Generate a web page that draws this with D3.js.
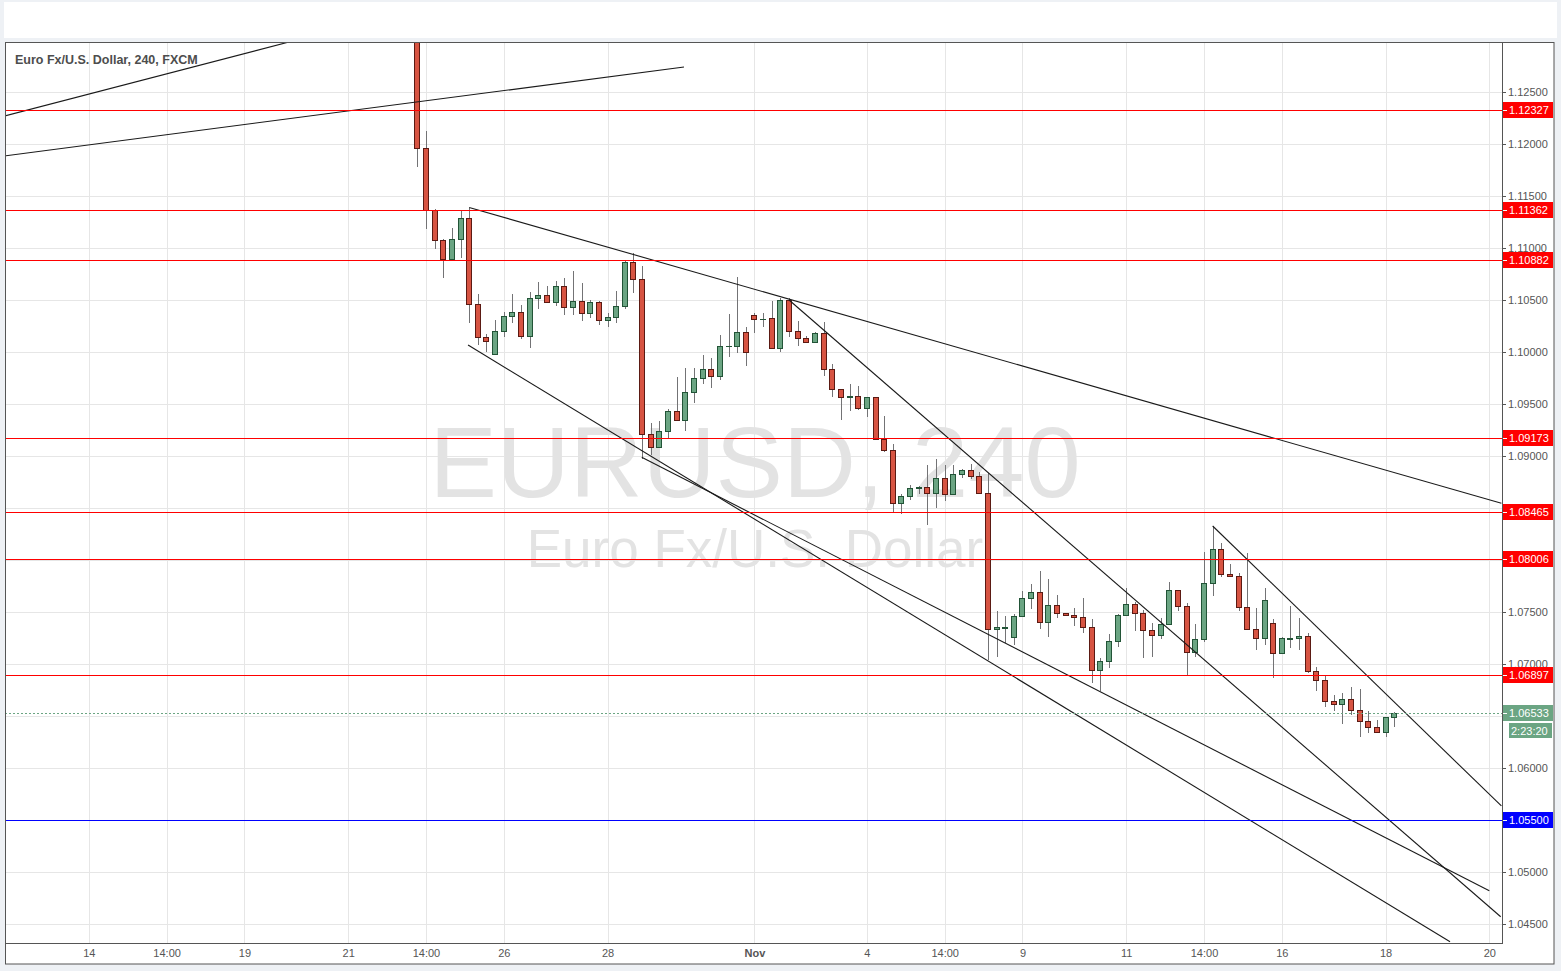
<!DOCTYPE html>
<html>
<head>
<meta charset="utf-8">
<title>EURUSD, 240</title>
<style>
body { margin: 0; background: #eef1f5; }
svg { display: block; }
text { font-family: "Liberation Sans", Arial, sans-serif; }
.grid line { stroke: #e6e6e6; shape-rendering: crispEdges; }
.wick { stroke: #737375; shape-rendering: crispEdges; }
.up { fill: #6ba583; stroke: #225437; shape-rendering: crispEdges; }
.down { fill: #d75442; stroke: #5b1a13; shape-rendering: crispEdges; }
.trend { stroke: #1a1a1a; stroke-width: 1.1; fill: none; }
.axis text { font-size: 11px; fill: #555; }
.axis line { stroke: #555; shape-rendering: crispEdges; }
</style>
</head>
<body>
<div id="chart"></div>
<script src="https://d3js.org/d3.v7.min.js"></script>
<script>

// 4h candles, index 0 = the big ECB candle
const opens = [1.13350, 1.11959, 1.11363, 1.11074, 1.10891, 1.11084, 1.11286, 1.10459, 1.10144, 1.09978,
	1.10199, 1.10343, 1.10382, 1.10151, 1.10516, 1.10551, 1.10478, 1.10632, 1.10430, 1.10487,
	1.10372, 1.10478, 1.10305, 1.10334, 1.10439, 1.10863, 1.10699, 1.09209, 1.09084, 1.09237,
	1.09430, 1.09343, 1.09613, 1.09747, 1.09834, 1.09766, 1.10055, 1.10061, 1.10189, 1.10353,
	1.10314, 1.10324, 1.10036, 1.10497, 1.10199, 1.10132, 1.10093, 1.10180, 1.09834, 1.09641,
	1.09570, 1.09574, 1.09459, 1.09564, 1.09161, 1.09058, 1.08545, 1.08620, 1.08689, 1.08702,
	1.08641, 1.08786, 1.08632, 1.08824, 1.08862, 1.08805, 1.08641, 1.07334, 1.07350, 1.07257,
	1.07459, 1.07632, 1.07689, 1.07401, 1.07564, 1.07493, 1.07474, 1.07449, 1.07353, 1.06939,
	1.07026, 1.07218, 1.07468, 1.07574, 1.07488, 1.07324, 1.07276, 1.07382, 1.07709, 1.07555,
	1.07113, 1.07238, 1.07776, 1.08103, 1.07863, 1.07849, 1.07545, 1.07334, 1.07247, 1.07391,
	1.07103, 1.07245, 1.07247, 1.07266, 1.06930, 1.06843, 1.06641, 1.06612, 1.06661, 1.06555,
	1.06449, 1.06391, 1.06343, 1.06488];

const highs = [1.13550, 1.12128, 1.11378, 1.11084, 1.11192, 1.11363, 1.11388, 1.10558, 1.10173, 1.10308,
	1.10388, 1.10558, 1.10452, 1.10574, 1.10670, 1.10635, 1.10683, 1.10709, 1.10782, 1.10663,
	1.10500, 1.10487, 1.10378, 1.10587, 1.10885, 1.10949, 1.10827, 1.09314, 1.09337, 1.09450,
	1.09763, 1.09846, 1.09846, 1.09971, 1.09942, 1.10161, 1.10365, 1.10724, 1.10238, 1.10378,
	1.10378, 1.10487, 1.10519, 1.10519, 1.10301, 1.10157, 1.10189, 1.10286, 1.09882, 1.09641,
	1.09689, 1.09673, 1.09565, 1.09564, 1.09385, 1.09115, 1.08630, 1.08721, 1.08712, 1.08913,
	1.08971, 1.08918, 1.08913, 1.08875, 1.08920, 1.08843, 1.08834, 1.07507, 1.07462, 1.07481,
	1.07702, 1.07766, 1.07891, 1.07820, 1.07661, 1.07493, 1.07538, 1.07632, 1.07430, 1.07058,
	1.07288, 1.07478, 1.07728, 1.07593, 1.07516, 1.07391, 1.07439, 1.07788, 1.07709, 1.07584,
	1.07385, 1.08077, 1.08327, 1.08161, 1.07962, 1.07872, 1.08067, 1.07536, 1.07728, 1.07433,
	1.07263, 1.07561, 1.07439, 1.07301, 1.06974, 1.06891, 1.06702, 1.06721, 1.06779, 1.06760,
	1.06545, 1.06464, 1.06488, 1.06536];

const lows = [1.11782, 1.11180, 1.10993, 1.10714, 1.10891, 1.10907, 1.10276, 1.10064, 1.10000, 1.09978,
	1.10147, 1.10276, 1.10122, 1.10036, 1.10416, 1.10478, 1.10445, 1.10356, 1.10356, 1.10301,
	1.10330, 1.10257, 1.10243, 1.10276, 1.10416, 1.10564, 1.08971, 1.09010, 1.09074, 1.09163,
	1.09343, 1.09243, 1.09507, 1.09692, 1.09651, 1.09731, 1.09949, 1.09988, 1.09868, 1.10180,
	1.10238, 1.10036, 1.10003, 1.10147, 1.10055, 1.10093, 1.10093, 1.09772, 1.09570, 1.09349,
	1.09436, 1.09440, 1.09372, 1.09161, 1.09041, 1.08449, 1.08439, 1.08577, 1.08632, 1.08337,
	1.08497, 1.08570, 1.08632, 1.08788, 1.08776, 1.08641, 1.07038, 1.07064, 1.07205, 1.07183,
	1.07459, 1.07526, 1.07339, 1.07257, 1.07445, 1.07474, 1.07368, 1.07301, 1.06814, 1.06738,
	1.06959, 1.07161, 1.07468, 1.07320, 1.07055, 1.07064, 1.07240, 1.07382, 1.07512, 1.06894,
	1.07070, 1.07214, 1.07657, 1.07839, 1.07849, 1.07512, 1.07334, 1.07132, 1.07186, 1.06863,
	1.07103, 1.07151, 1.07135, 1.06911, 1.06738, 1.06589, 1.06551, 1.06420, 1.06507, 1.06301,
	1.06339, 1.06343, 1.06301, 1.06397];

const closes = [1.11959, 1.11363, 1.11074, 1.10891, 1.11084, 1.11286, 1.10459, 1.10144, 1.10103, 1.10199,
	1.10343, 1.10382, 1.10151, 1.10516, 1.10551, 1.10478, 1.10632, 1.10430, 1.10487, 1.10372,
	1.10478, 1.10305, 1.10334, 1.10439, 1.10863, 1.10699, 1.09209, 1.09084, 1.09237, 1.09430,
	1.09343, 1.09613, 1.09747, 1.09834, 1.09766, 1.10055, 1.10061, 1.10189, 1.09997, 1.10314,
	1.10320, 1.10036, 1.10497, 1.10199, 1.10132, 1.10093, 1.10180, 1.09834, 1.09641, 1.09570,
	1.09574, 1.09459, 1.09564, 1.09161, 1.09058, 1.08545, 1.08620, 1.08689, 1.08699, 1.08641,
	1.08786, 1.08632, 1.08824, 1.08862, 1.08805, 1.08641, 1.07334, 1.07353, 1.07353, 1.07459,
	1.07632, 1.07689, 1.07401, 1.07564, 1.07493, 1.07474, 1.07449, 1.07353, 1.06939, 1.07026,
	1.07218, 1.07468, 1.07574, 1.07488, 1.07324, 1.07276, 1.07382, 1.07709, 1.07555, 1.07113,
	1.07238, 1.07776, 1.08103, 1.07863, 1.07849, 1.07545, 1.07334, 1.07247, 1.07613, 1.07103,
	1.07247, 1.07247, 1.07266, 1.06930, 1.06843, 1.06641, 1.06612, 1.06661, 1.06555, 1.06449,
	1.06391, 1.06343, 1.06488, 1.06533];

// time axis (bar index -> label)
const xTickIdx = [-38, -29, -20, -8, 1, 10, 22, 39, 52, 61, 70, 82, 91, 100, 112, 124];
const xTickLabels = ['14', '14:00', '19', '21', '14:00', '26', '28', 'Nov', '4', '14:00', '9', '11', '14:00', '16', '18', '20'];

// price axis
const yTicks = [1.045, 1.050, 1.055, 1.060, 1.065, 1.070, 1.075, 1.080, 1.085, 1.090,
	1.095, 1.100, 1.105, 1.110, 1.115, 1.120, 1.125];

// drawn levels
const redLevels = [1.12327, 1.11362, 1.10882, 1.09173, 1.08465, 1.08006, 1.06897];
const blueLevels = [1.05500];
const lastPrice = 1.06533;
const countdown = '2:23:20';

// drawn trend lines, [bar index, price] pairs
const trendLines = [
	[[-48.3, 1.12257], [-13.5, 1.13010]],
	[[-48.3, 1.11879], [30.85, 1.12740]],
	[[6.0, 1.11390], [125.4, 1.08545]],
	[[5.87, 1.10067], [119.46, 1.04329]],
	[[25.96, 1.08988], [124.0, 1.04820]],
	[[43.0, 1.10500], [125.32, 1.04570]],
	[[92.0, 1.08327], [125.4, 1.05635]]
];

const width = 1561, height = 971;
const plotL = 5, plotR = 1502, plotT = 42, plotB = 943;

const svg = d3.select('#chart').append('svg')
	.attr('width', width)
	.attr('height', height);

// page + toolbar strip + chart panel
svg.append('rect').attr('width', width).attr('height', height).attr('fill', '#eef1f5');
svg.append('rect').attr('x', 4).attr('y', 2).attr('width', 1553).attr('height', 36).attr('fill', '#fff');
svg.append('rect')
	.attr('x', 5.5).attr('y', 42.5)
	.attr('width', 1548.5).attr('height', 921.5)
	.attr('fill', '#fff')
	.attr('stroke', '#555');

const x = d3.scaleLinear().domain([-38, 124]).range([88.8, 1489.3]);
const y = d3.scaleLinear().domain([1.045, 1.125]).range([924, 92]);

const px = v => Math.round(v) + 0.5;

svg.append('clipPath').attr('id', 'plot')
	.append('rect')
	.attr('x', plotL + 1).attr('y', plotT + 1)
	.attr('width', plotR - plotL - 1).attr('height', plotB - plotT - 1);

const plot = svg.append('g').attr('clip-path', 'url(#plot)');

// grid
const grid = plot.append('g').attr('class', 'grid');
grid.selectAll('.v').data(xTickIdx).enter().append('line')
	.attr('x1', d => px(x(d))).attr('x2', d => px(x(d)))
	.attr('y1', plotT).attr('y2', plotB);
grid.selectAll('.h').data(yTicks).enter().append('line')
	.attr('x1', plotL).attr('x2', plotR)
	.attr('y1', d => px(y(d))).attr('y2', d => px(y(d)));

// watermark
plot.append('text')
	.attr('x', 755).attr('y', 497)
	.attr('text-anchor', 'middle')
	.attr('font-size', 101)
	.attr('fill', '#e3e3e3')
	.text('EURUSD, 240');
plot.append('text')
	.attr('x', 755).attr('y', 567)
	.attr('text-anchor', 'middle')
	.attr('font-size', 53)
	.attr('fill', '#e3e3e3')
	.text('Euro Fx/U.S. Dollar');

// candles
const bars = d3.range(opens.length).map(i => ({
	i: i, o: opens[i], h: highs[i], l: lows[i], c: closes[i]
}));

plot.selectAll('.wick').data(bars).enter().append('line')
	.attr('class', 'wick')
	.attr('x1', d => px(x(d.i))).attr('x2', d => px(x(d.i)))
	.attr('y1', d => Math.round(y(d.h))).attr('y2', d => Math.round(y(d.l)));

plot.selectAll('.body').data(bars).enter().append('rect')
	.attr('class', d => d.c >= d.o ? 'up' : 'down')
	.attr('x', d => Math.round(x(d.i)) - 2.5)
	.attr('width', 5)
	.attr('y', d => px(y(Math.max(d.o, d.c))))
	.attr('height', d => Math.max(Math.round(y(Math.min(d.o, d.c))) - Math.round(y(Math.max(d.o, d.c))), 0.01));

// trend lines
plot.selectAll('.trend').data(trendLines).enter().append('line')
	.attr('class', 'trend')
	.attr('x1', d => x(d[0][0])).attr('y1', d => y(d[0][1]))
	.attr('x2', d => x(d[1][0])).attr('y2', d => y(d[1][1]));

// horizontal levels
plot.selectAll('.red').data(redLevels).enter().append('line')
	.attr('x1', plotL).attr('x2', plotR)
	.attr('y1', d => px(y(d))).attr('y2', d => px(y(d)))
	.attr('stroke', '#ff0000').attr('shape-rendering', 'crispEdges');
plot.selectAll('.blue').data(blueLevels).enter().append('line')
	.attr('x1', plotL).attr('x2', plotR)
	.attr('y1', d => px(y(d))).attr('y2', d => px(y(d)))
	.attr('stroke', '#0000ff').attr('shape-rendering', 'crispEdges');

// last price line
plot.append('line')
	.attr('x1', plotL).attr('x2', plotR)
	.attr('y1', px(y(lastPrice))).attr('y2', px(y(lastPrice)))
	.attr('stroke', '#6ba583')
	.attr('stroke-dasharray', '2,2')
	.attr('shape-rendering', 'crispEdges');

// legend
svg.append('text')
	.attr('x', 15).attr('y', 64)
	.attr('font-size', 12.5)
	.attr('font-weight', 'bold')
	.attr('fill', '#4d4d4d')
	.text('Euro Fx/U.S. Dollar, 240, FXCM');

// axes
const xAxis = svg.append('g')
	.attr('class', 'axis')
	.attr('transform', `translate(0,${plotB})`)
	.call(d3.axisBottom(x).tickValues(xTickIdx).tickFormat((d, i) => xTickLabels[i]).tickSize(0).tickPadding(6));
xAxis.select('.domain').remove();
xAxis.selectAll('text')
	.attr('font-weight', (d, i) => /^[A-Za-z]/.test(xTickLabels[i]) ? 'bold' : null);

// tick labels fully hidden under a price tag are not drawn (as in the original)
const tagPrices = redLevels.concat(blueLevels, [lastPrice]);
const hidden = d => tagPrices.some(p => Math.abs(y(p) - y(d)) < 7);

const yAxis = svg.append('g')
	.attr('class', 'axis')
	.attr('transform', `translate(${plotR},0)`)
	.call(d3.axisRight(y).tickValues(yTicks.filter(d => !hidden(d))).tickFormat(d3.format('.5f')).tickSize(4).tickPadding(2));
yAxis.select('.domain').remove();
yAxis.selectAll('.tick').attr('transform', d => `translate(0,${px(y(d))})`);

// frame lines
svg.append('line')
	.attr('x1', px(plotR)).attr('x2', px(plotR)).attr('y1', plotT).attr('y2', plotB + 1)
	.attr('stroke', '#555').attr('shape-rendering', 'crispEdges');
svg.append('line')
	.attr('x1', plotL).attr('x2', plotR + 1).attr('y1', px(plotB)).attr('y2', px(plotB))
	.attr('stroke', '#555').attr('shape-rendering', 'crispEdges');

// price labels on the axis
function priceTag(p, color, label) {
	const yy = Math.round(y(p));
	const g = svg.append('g');
	g.append('rect')
		.attr('x', plotR + 1).attr('y', yy - 8)
		.attr('width', 50).attr('height', 16)
		.attr('fill', color);
	g.append('line')
		.attr('x1', plotR + 1).attr('x2', plotR + 5)
		.attr('y1', yy + 0.5).attr('y2', yy + 0.5)
		.attr('stroke', '#fff');
	g.append('text')
		.attr('x', plotR + 7).attr('y', yy + 4)
		.attr('font-size', 11)
		.attr('fill', '#fff')
		.text(label);
}
redLevels.forEach(p => priceTag(p, '#ff0000', p.toFixed(5)));
blueLevels.forEach(p => priceTag(p, '#0000ff', p.toFixed(5)));
priceTag(lastPrice, '#6ba583', lastPrice.toFixed(5));

svg.append('rect')
	.attr('x', 1509).attr('y', Math.round(y(lastPrice)) + 10)
	.attr('width', 43).attr('height', 15)
	.attr('fill', '#6ba583');
svg.append('text')
	.attr('x', 1511).attr('y', Math.round(y(lastPrice)) + 21.5)
	.attr('font-size', 11)
	.attr('fill', '#fff')
	.text(countdown);

</script>
</body>
</html>
